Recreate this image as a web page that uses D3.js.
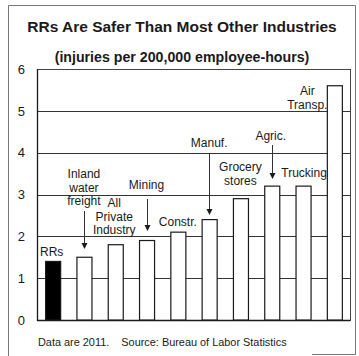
<!DOCTYPE html>
<html>
<head>
<meta charset="utf-8">
<script src="https://cdn.jsdelivr.net/npm/d3@7"></script>
<style>
  html, body { margin: 0; padding: 0; background: #fff; }
  svg { display: block; font-family: "Liberation Sans", Arial, Helvetica, sans-serif; }
</style>
</head>
<body>
<svg id="chart" width="359" height="356"></svg>
<script>
// Injury rates, 2011 (injuries per 200,000 employee-hours)
const industries = ["RRs", "Inland water freight", "All Private Industry", "Mining", "Constr.",
                    "Manuf.", "Grocery stores", "Agric.", "Trucking", "Air Transp."];
const rates = [1.4, 1.5, 1.8, 1.9, 2.1, 2.4, 2.9, 3.2, 3.2, 5.6];
const yTicks = [0, 1, 2, 3, 4, 5, 6];

// Bar captions: text lines, baseline of the first line, and optional arrow (from y, to y)
const captionLines = [
  ["RRs"], ["Inland", "water", "freight"], ["All", "Private", "Industry"], ["Mining"], ["Constr."],
  ["Manuf."], ["Grocery", "stores"], ["Agric."], ["Trucking"], ["Air", "Transp."]
];
const captionTop = [256, 178, 207, 189, 226, 147, 171, 140, 177, 95];
const captionDx = [-1, 0, -1, 0, 0, 0, 0, -1, 1, -27];
const arrowFrom = [null, 211, null, 199, null, 153, null, 145, null, null];
const arrowTo = [null, 249, null, 231, null, 215, null, 179, null, null];

const svg = d3.select("#chart");
const ink = "#1a1a1a";

// Outer frame
svg.append("path")
  .attr("d", "M8.5,356 V5.5 H355.5 V354.5 H312")
  .attr("fill", "none").attr("stroke", "#777").attr("stroke-width", 1);

// Titles
svg.append("text").attr("x", 182).attr("y", 32).attr("text-anchor", "middle")
  .attr("font-size", 15.5).attr("font-weight", "bold").attr("fill", ink)
  .text("RRs Are Safer Than Most Other Industries");
svg.append("text").attr("x", 182).attr("y", 62).attr("text-anchor", "middle")
  .attr("font-size", 14.2).attr("font-weight", "bold").attr("fill", ink)
  .text("(injuries per 200,000 employee-hours)");

const plotLeft = 37, plotRight = 350, plotTop = 69, plotBottom = 320;

const x = d3.scaleBand().domain(industries).range([plotLeft, plotRight])
  .paddingInner(0.52).paddingOuter(0.26);
const y = d3.scaleLinear().domain([0, 6]).range([plotBottom, plotTop]);

// Gridlines behind the bars
svg.append("g").selectAll("line").data(yTicks.filter(d => d > 0 && d < 6)).join("line")
  .attr("x1", plotLeft).attr("x2", plotRight)
  .attr("y1", d => Math.round(y(d)) + 0.5).attr("y2", d => Math.round(y(d)) + 0.5)
  .attr("stroke", "#333").attr("stroke-width", 1);

// Plot box
svg.append("rect").attr("x", plotLeft + 0.5).attr("y", plotTop + 0.5)
  .attr("width", plotRight - plotLeft).attr("height", plotBottom - plotTop)
  .attr("fill", "none").attr("stroke", "#444").attr("stroke-width", 1);
svg.append("line").attr("x1", plotLeft + 0.5).attr("x2", plotLeft + 0.5)
  .attr("y1", plotTop).attr("y2", plotBottom + 1)
  .attr("stroke", ink).attr("stroke-width", 1.3);
svg.append("line").attr("x1", plotLeft).attr("x2", plotRight)
  .attr("y1", plotBottom + 0.5).attr("y2", plotBottom + 0.5)
  .attr("stroke", ink).attr("stroke-width", 1.3);

// Y axis labels
const yAxis = d3.axisLeft(y).tickValues(yTicks).tickSize(0).tickPadding(0).tickFormat(d3.format("d"));
const yg = svg.append("g").attr("transform", "translate(25,0)").call(yAxis);
yg.select(".domain").remove();
yg.selectAll("text").attr("font-size", 13).attr("fill", ink)
  .attr("font-family", "'Liberation Sans', Arial, sans-serif");

// Bars
svg.append("g").selectAll("rect").data(industries).join("rect")
  .attr("x", d => x(d) + 0.5)
  .attr("y", (d, i) => y(rates[i]))
  .attr("width", x.bandwidth())
  .attr("height", (d, i) => plotBottom - y(rates[i]))
  .attr("fill", (d, i) => i === 0 ? "#000" : "#fff")
  .attr("stroke", ink).attr("stroke-width", 1.2);

// Captions
const cap = svg.append("g").attr("font-size", 12).attr("fill", ink).attr("text-anchor", "middle");
industries.forEach((d, i) => {
  const cx = x(d) + x.bandwidth() / 2 + captionDx[i];
  const lh = captionLines[i].length > 1 ? 13.5 : 0;
  captionLines[i].forEach((line, j) => {
    cap.append("text").attr("x", cx).attr("y", captionTop[i] + j * lh).text(line);
  });
});

// Arrows pointing at their bars
const arr = svg.append("g");
industries.forEach((d, i) => {
  if (arrowFrom[i] === null) return;
  const ax = Math.round(x(d) + x.bandwidth() / 2) + 0.5;
  arr.append("line").attr("x1", ax).attr("x2", ax)
    .attr("y1", arrowFrom[i]).attr("y2", arrowTo[i] - 5)
    .attr("stroke", "#333").attr("stroke-width", 1);
  arr.append("path")
    .attr("d", `M${ax - 3},${arrowTo[i] - 6} L${ax + 3},${arrowTo[i] - 6} L${ax},${arrowTo[i]} Z`)
    .attr("fill", ink);
});

// Footer
svg.append("text").attr("x", 38).attr("y", 346).attr("font-size", 10.9).attr("fill", ink)
  .attr("xml:space", "preserve")
  .text("Data are 2011.    Source: Bureau of Labor Statistics");
</script>
</body>
</html>
